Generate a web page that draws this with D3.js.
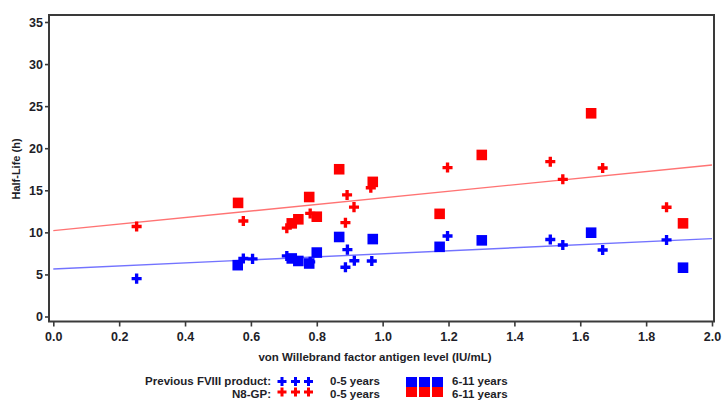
<!DOCTYPE html>
<html>
<head>
<meta charset="utf-8">
<script src="https://cdn.jsdelivr.net/npm/d3@7"></script>
<style>
  html, body { margin: 0; padding: 0; background: #fff; }
  svg { display: block; font-family: "Liberation Sans", Arial, sans-serif; font-weight: bold; }
</style>
</head>
<body>
<svg id="chart" width="722" height="401"></svg>
<script>
// von Willebrand factor antigen level (IU/mL) and half-life (h), per group
const prevYoungVwf = [0.253, 0.577, 0.605, 0.709, 0.780, 0.887, 0.893, 0.914, 0.967, 1.197, 1.509, 1.547, 1.668, 1.862];
const prevYoungHl  = [4.5,   6.9,   6.85,  7.2,   6.5,   5.85,  7.95,  6.63,  6.6,   9.57,  9.15,  8.5,   7.9,   9.1];

const prevOldVwf = [0.560, 0.724, 0.744, 0.777, 0.800, 0.868, 0.970, 1.173, 1.301, 1.633, 1.912];
const prevOldHl  = [6.1,   6.9,   6.6,   6.3,   7.6,   9.45,  9.2,   8.28,  9.05,  9.96,  5.8];

const n8YoungVwf = [0.253, 0.577, 0.709, 0.780, 0.887, 0.892, 0.913, 0.964, 1.197, 1.509, 1.547, 1.668, 1.862];
const n8YoungHl  = [10.7,  11.35, 10.5,  12.25, 11.15, 14.45, 13.0,  15.3,  17.7,  18.4,  16.3,  17.65, 12.98];

const n8OldVwf = [0.561, 0.724, 0.744, 0.777, 0.800, 0.868, 0.970, 1.173, 1.301, 1.633, 1.912];
const n8OldHl  = [13.5,  11.07, 11.55, 14.2,  11.86, 17.5,  16.0,  12.2,  19.2,  24.15, 11.07];

// Fitted regression lines (intercept, slope)
const fitN8   = [10.2, 3.9];
const fitPrev = [5.65, 1.8];

const xTicks = [0.0, 0.2, 0.4, 0.6, 0.8, 1.0, 1.2, 1.4, 1.6, 1.8, 2.0];
const yTicks = [0, 5, 10, 15, 20, 25, 30, 35];

const RED = "#ff0000", BLUE = "#0000ff";

const svg = d3.select("#chart");
const frame = { left: 49, right: 714, top: 15, bottom: 321.5 };

const x = d3.scaleLinear().domain([0, 2]).range([53.3, 712]);
const y = d3.scaleLinear().domain([0, 35]).range([316.5, 22]);

// Plot frame
svg.append("rect")
  .attr("x", frame.left).attr("y", frame.top)
  .attr("width", frame.right - frame.left).attr("height", frame.bottom - frame.top)
  .attr("fill", "none").attr("stroke", "#3a3a3a").attr("stroke-width", 2);

// Axes
const yAxis = svg.append("g")
  .attr("transform", `translate(${frame.left},0)`)
  .call(d3.axisLeft(y).tickValues(yTicks).tickFormat(d3.format("d")).tickSize(4).tickPadding(2));
const xAxis = svg.append("g")
  .attr("transform", `translate(0,${frame.bottom})`)
  .call(d3.axisBottom(x).tickValues(xTicks).tickFormat(d3.format(".1f")).tickSize(5).tickPadding(6));

[xAxis, yAxis].forEach(g => {
  g.select(".domain").remove();
  g.selectAll(".tick line").attr("stroke", "#3a3a3a").attr("stroke-width", 1.6);
  g.selectAll(".tick text")
    .attr("fill", "#1e1e28")
    .attr("font-family", "Liberation Sans, Arial, sans-serif")
    .attr("font-weight", "bold")
    .attr("font-size", 12.5);
});

// Axis titles
svg.append("text")
  .attr("transform", `translate(20,169) rotate(-90)`)
  .attr("text-anchor", "middle")
  .attr("font-size", 11).attr("fill", "#1e1e28")
  .text("Half-Life (h)");

svg.append("text")
  .attr("x", 375).attr("y", 361)
  .attr("text-anchor", "middle")
  .attr("font-size", 11.5).attr("fill", "#1e1e28")
  .text("von Willebrand factor antigen level (IU/mL)");

// Regression lines
const line = d3.line().x(d => x(d[0])).y(d => y(d[1]));
[[fitN8, "#ff5a5a"], [fitPrev, "#5a5aff"]].forEach(([f, c]) => {
  svg.append("path")
    .attr("d", line([[0, f[0]], [2, f[0] + 2 * f[1]]]))
    .attr("fill", "none").attr("stroke", c).attr("stroke-width", 1.4).attr("opacity", 0.85);
});

// Markers
const cross = d3.symbol().type(d3.symbolCross).size(56);
const square = d3.symbol().type(d3.symbolSquare).size(112);

function drawSeries(xs, ys, sym, color) {
  svg.append("g").selectAll("path")
    .data(d3.zip(xs, ys))
    .join("path")
    .attr("transform", d => `translate(${x(d[0])},${y(d[1])})`)
    .attr("d", sym)
    .attr("fill", color);
}
drawSeries(prevOldVwf, prevOldHl, square, BLUE);
drawSeries(n8OldVwf, n8OldHl, square, RED);
drawSeries(prevYoungVwf, prevYoungHl, cross, BLUE);
drawSeries(n8YoungVwf, n8YoungHl, cross, RED);

// Legend: two stacked rows, previous product above N8-GP
const legend = svg.append("g").attr("fill", "#1e1e28").attr("font-size", 11.5);
const legendRows = [
  { label: "Previous FVIII product:", color: BLUE, cy: 381.5, base: 385 },
  { label: "N8-GP:", color: RED, cy: 392, base: 397.5 }
];
const crossX = [282, 295.5, 308.5];
const squareX = [411.5, 424.5, 437.5];
const legendCross = d3.symbol().type(d3.symbolCross).size(45);

legendRows.forEach((r, i) => {
  legend.append("text").attr("x", 271).attr("y", r.base).attr("text-anchor", "end").text(r.label);
  legend.selectAll(null).data(crossX).join("path")
    .attr("transform", d => `translate(${d},${r.cy})`)
    .attr("d", legendCross).attr("fill", r.color);
  legend.selectAll(null).data(squareX).join("rect")
    .attr("x", d => d - 5.5).attr("y", 377 + i * 10)
    .attr("width", 11).attr("height", 10).attr("fill", r.color);
  legend.append("text").attr("x", 330).attr("y", r.base).text("0-5 years");
  legend.append("text").attr("x", 452).attr("y", r.base).text("6-11 years");
});
</script>
</body>
</html>
